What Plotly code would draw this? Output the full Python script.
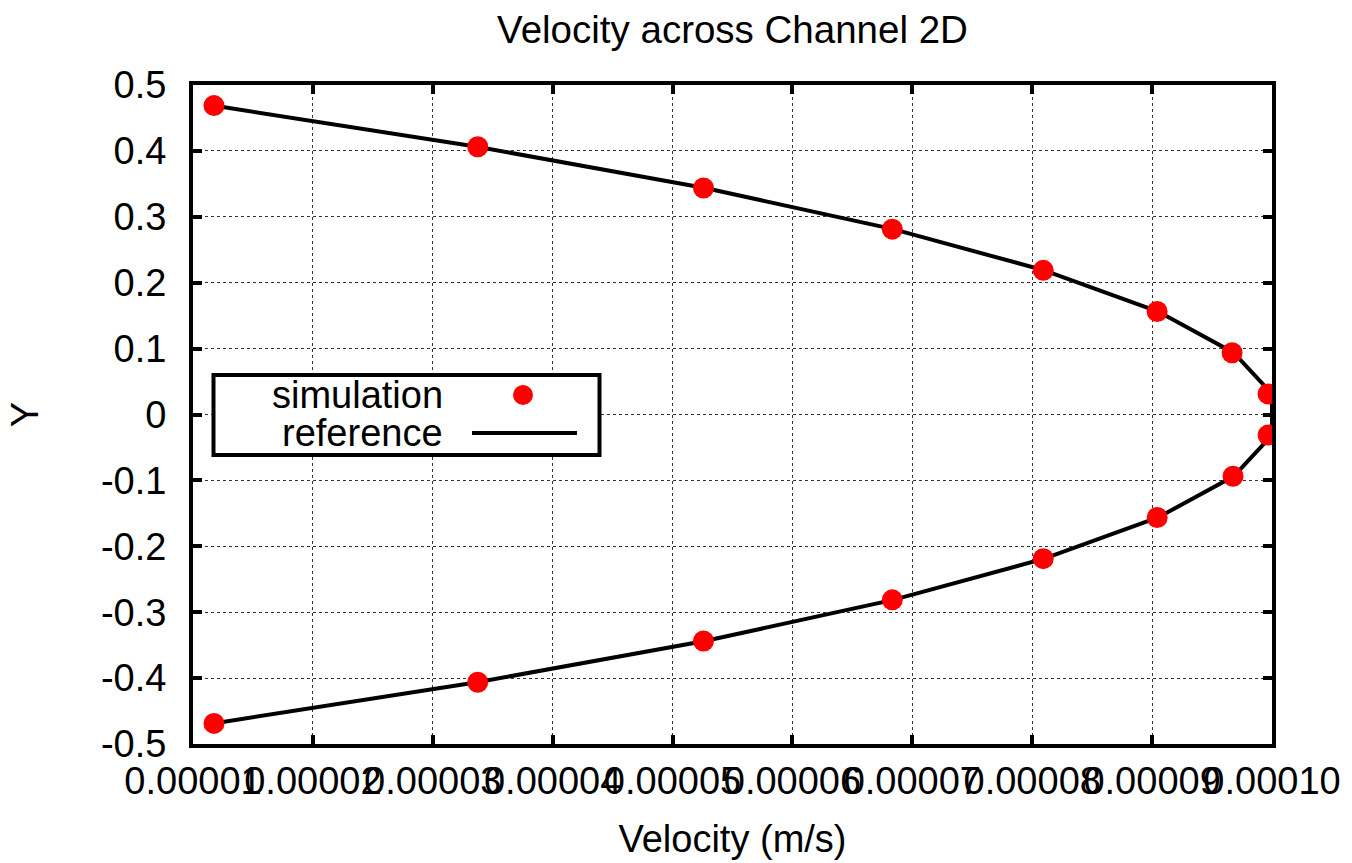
import plotly.graph_objects as go

# ---- data ----
y_pos = [0.46875, 0.40625, 0.34375, 0.28125, 0.21875, 0.15625, 0.09375, 0.03125,
         -0.03125, -0.09375, -0.15625, -0.21875, -0.28125, -0.34375, -0.40625, -0.46875]
sim_u = [1.175e-5, 3.375e-5, 5.258e-5, 6.833e-5, 8.092e-5, 9.042e-5, 9.667e-5, 9.967e-5,
         9.967e-5, 9.675e-5, 9.042e-5, 8.092e-5, 6.833e-5, 5.258e-5, 3.375e-5, 1.175e-5]
ref_u = [1.17e-5, 3.37e-5, 5.27e-5, 6.84e-5, 8.10e-5, 9.05e-5, 9.68e-5, 1.0e-4,
         1.0e-4, 9.68e-5, 9.05e-5, 8.10e-5, 6.84e-5, 5.27e-5, 3.37e-5, 1.17e-5]
x_ticks = [1e-5, 2e-5, 3e-5, 4e-5, 5e-5, 6e-5, 7e-5, 8e-5, 9e-5, 1e-4]
x_tick_labels = ["0.00001", "0.00002", "0.00003", "0.00004", "0.00005",
                 "0.00006", "0.00007", "0.00008", "0.00009", "0.00010"]
y_ticks = [0.5, 0.4, 0.3, 0.2, 0.1, 0.0, -0.1, -0.2, -0.3, -0.4, -0.5]
y_tick_labels = ["0.5", "0.4", "0.3", "0.2", "0.1", "0", "-0.1", "-0.2", "-0.3", "-0.4", "-0.5"]

FONT = "Liberation Sans, Arial, sans-serif"
FS = 38

fig = go.Figure()
fig.add_trace(go.Scatter(x=ref_u, y=y_pos, mode="lines", name="reference",
                         line=dict(color="black", width=4), showlegend=False))
fig.add_trace(go.Scatter(x=sim_u, y=y_pos, mode="markers", name="simulation",
                         marker=dict(color="red", size=21, line=dict(width=0)),
                         showlegend=False))

L, R, T, B = 193, 80, 85, 119
W, H = 1352, 863
pw, ph = W - L - R, H - T - B

def px(xp):
    return (xp - L) / pw

def py(yp):
    return (H - B - yp) / ph

# manual legend (text left, symbol right, like gnuplot)
fig.add_shape(type="rect", xref="paper", yref="paper",
              x0=px(213.5), x1=px(599.5), y0=py(455), y1=py(375),
              line=dict(color="black", width=4), fillcolor="white", layer="above")
fig.add_annotation(xref="paper", yref="paper", x=px(445), y=py(395), text="simulation",
                   showarrow=False, xanchor="right", yanchor="middle",
                   font=dict(family=FONT, size=FS, color="black"))
fig.add_annotation(xref="paper", yref="paper", x=px(445), y=py(433), text="reference",
                   showarrow=False, xanchor="right", yanchor="middle",
                   font=dict(family=FONT, size=FS, color="black"))
fig.add_shape(type="circle", xref="paper", yref="paper",
              x0=px(513), x1=px(533), y0=py(405), y1=py(385),
              fillcolor="red", line=dict(width=0), layer="above")
fig.add_shape(type="line", xref="paper", yref="paper",
              x0=px(472), x1=px(577), y0=py(433), y1=py(433),
              line=dict(color="black", width=4), layer="above")

axis_common = dict(
    showline=True, linecolor="black", linewidth=4, mirror="ticks",
    ticks="inside", ticklen=9, tickwidth=4, tickcolor="black",
    showgrid=True, gridcolor="#333333", gridwidth=1, griddash="3px,3px",
    zeroline=False, tickangle=0,
    tickfont=dict(family=FONT, size=FS, color="black"),
)

fig.update_xaxes(range=[1e-5, 1e-4], tickvals=x_ticks, ticktext=x_tick_labels,
                 ticklabelstandoff=0,
                 title=dict(text="Velocity (m/s)", standoff=26,
                            font=dict(family=FONT, size=FS, color="black")),
                 **axis_common)
fig.update_yaxes(range=[-0.5, 0.5], tickvals=y_ticks, ticktext=y_tick_labels,
                 ticklabelstandoff=15,
                 title=dict(text="Y", standoff=52,
                            font=dict(family=FONT, size=FS, color="black")),
                 **axis_common)

fig.update_layout(
    width=W, height=H,
    margin=dict(l=L, r=R, t=T, b=B, autoexpand=False),
    paper_bgcolor="white", plot_bgcolor="white",
    title=dict(text="Velocity across Channel 2D", x=0.5, xref="paper",
               y=1 - 30 / H, yref="container", yanchor="middle",
               font=dict(family=FONT, size=38.5, color="black")),
)

fig.write_html("out.html", config={"displayModeBar": False},
               post_script="document.body.style.margin='0';")
